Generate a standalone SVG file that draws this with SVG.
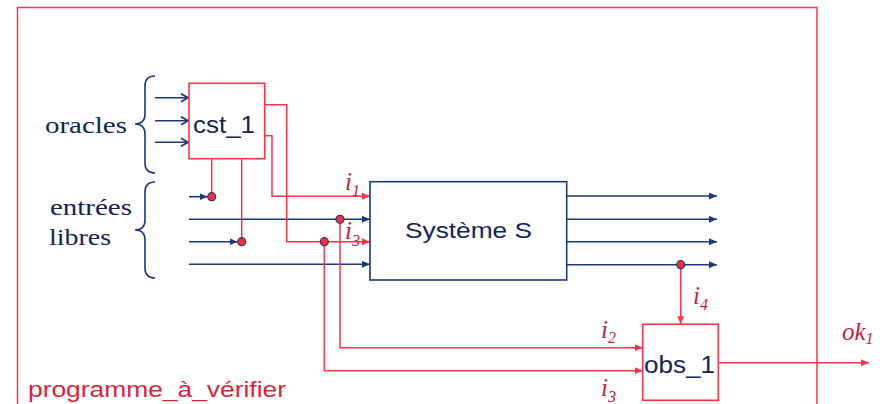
<svg xmlns="http://www.w3.org/2000/svg" width="890" height="404" viewBox="0 0 890 404">
<defs>
<style>
.blue{stroke:#1b3a78;stroke-width:1.6;fill:none}
.red{stroke:#ff3348;stroke-width:1.5;fill:none}
.box{fill:#fff;stroke-width:1.6}
.sans{font-family:"Liberation Sans",Arial,sans-serif;fill:#10245e}
.serif{font-family:"Liberation Serif","Times New Roman",serif;fill:#10245e}
.lab{font-family:"Liberation Serif","Times New Roman",serif;font-style:italic;fill:#c8203c;font-size:25px}
.sub{font-size:16px}
.dot{fill:#ff2a3c;stroke:#1b3a78;stroke-width:1.2}
</style>
<marker id="ab" markerUnits="userSpaceOnUse" markerWidth="9" markerHeight="8" refX="8" refY="3.5" orient="auto"><path d="M0,0 L8,3.5 L0,7 z" fill="#1b3a78"/></marker>
<marker id="ar" markerUnits="userSpaceOnUse" markerWidth="9" markerHeight="8" refX="8" refY="3.5" orient="auto"><path d="M0,0 L8,3.5 L0,7 z" fill="#ff3348"/></marker>
<marker id="ao" markerUnits="userSpaceOnUse" markerWidth="10" markerHeight="10" refX="8" refY="5" orient="auto"><path d="M1,1 L8,5 L1,9" fill="none" stroke="#1b3a78" stroke-width="1.8"/></marker>
</defs>
<rect width="890" height="404" fill="#fff"/>
<g id="frame">
<rect x="17.5" y="7.5" width="799.5" height="430" class="red"/>
<text x="28" y="396.7" font-size="22" textLength="258" lengthAdjust="spacingAndGlyphs" style="font-family:'Liberation Sans',Arial,sans-serif;fill:#dc1f3c">programme_à_vérifier</text>
</g>
<g id="oracles">
<path class="blue" d="M155,76 Q145,76 145,86 L145,114 Q145,124 135,124 Q145,124 145,134 L145,163 Q145,173 155,173"/>
<text class="serif" x="45" y="133" font-size="24" textLength="82" lengthAdjust="spacingAndGlyphs">oracles</text>
</g>
<g id="entrees">
<path class="blue" d="M155,182 Q145,182 145,192 L145,220 Q145,230 135,230 Q145,230 145,240 L145,268 Q145,278 155,278"/>
<text class="serif" x="50" y="215" font-size="24" textLength="82" lengthAdjust="spacingAndGlyphs">entrées</text>
<text class="serif" x="49" y="245" font-size="24" textLength="62" lengthAdjust="spacingAndGlyphs">libres</text>
</g>
<g id="connectors">
<line class="blue" x1="155" y1="97.7" x2="188" y2="97.7" marker-end="url(#ao)"/>
<line class="blue" x1="155" y1="120.7" x2="188" y2="120.7" marker-end="url(#ao)"/>
<line class="blue" x1="155" y1="142.3" x2="188" y2="142.3" marker-end="url(#ao)"/>
<line class="blue" x1="189" y1="196.7" x2="207.5" y2="196.7" marker-end="url(#ab)"/>
<line class="blue" x1="189" y1="219.3" x2="370" y2="219.3" marker-end="url(#ab)"/>
<line class="blue" x1="189" y1="241.7" x2="237.5" y2="241.7" marker-end="url(#ab)"/>
<line class="blue" x1="189" y1="264.3" x2="370" y2="264.3" marker-end="url(#ab)"/>
<line class="blue" x1="567" y1="196" x2="717" y2="196" marker-end="url(#ab)"/>
<line class="blue" x1="567" y1="219.3" x2="717" y2="219.3" marker-end="url(#ab)"/>
<line class="blue" x1="567" y1="241.7" x2="717" y2="241.7" marker-end="url(#ab)"/>
<line class="blue" x1="567" y1="264.7" x2="717" y2="264.7" marker-end="url(#ab)"/>
<path class="red" d="M265,104.7 H286.7 V241.7 H370" marker-end="url(#ar)"/>
<path class="red" d="M265,135.7 H272 V196.3 H370" marker-end="url(#ar)"/>
<path class="red" d="M211.7,159 V196.7"/>
<path class="red" d="M241.7,159 V241.7"/>
<path class="red" d="M340,219.3 V347.7 H642.7" marker-end="url(#ar)"/>
<path class="red" d="M324.3,241.7 V370.7 H642.7" marker-end="url(#ar)"/>
<path class="red" d="M680.7,264.7 V324.3" marker-end="url(#ar)"/>
<path class="red" d="M718.3,362.7 H869" marker-end="url(#ar)"/>
<circle class="dot" cx="211.7" cy="196.7" r="4"/>
<circle class="dot" cx="241.7" cy="241.7" r="4"/>
<circle class="dot" cx="340" cy="219.3" r="4"/>
<circle class="dot" cx="324.3" cy="241.7" r="4"/>
<circle class="dot" cx="680.7" cy="264.7" r="4"/>
<text class="lab" x="345" y="190">i<tspan class="sub" dy="6">1</tspan></text>
<text class="lab" x="345" y="239">i<tspan class="sub" dy="7">3</tspan></text>
<text class="lab" x="601" y="338">i<tspan class="sub" dy="5">2</tspan></text>
<text class="lab" x="601" y="396">i<tspan class="sub" dy="6">3</tspan></text>
<text class="lab" x="693" y="304">i<tspan class="sub" dy="6">4</tspan></text>
<text class="lab" x="842" y="340">ok<tspan class="sub" dy="4">1</tspan></text>
</g>
<g id="cst_1">
<rect x="189" y="83.3" width="75.7" height="75.4" class="box" stroke="#ff3348"/>
<text class="sans" x="193" y="132.7" font-size="24" textLength="62" lengthAdjust="spacingAndGlyphs">cst_1</text>
</g>
<g id="systeme_s">
<rect x="370" y="181.7" width="196.7" height="98.3" class="box" stroke="#1b3a78"/>
<text class="sans" x="405" y="238.3" font-size="22" textLength="127" lengthAdjust="spacingAndGlyphs">Système S</text>
</g>
<g id="obs_1">
<rect x="642.7" y="324.3" width="75.6" height="76" class="box" stroke="#ff3348"/>
<text class="sans" x="644" y="372.7" font-size="23" textLength="71" lengthAdjust="spacingAndGlyphs">obs_1</text>
</g>
</svg>
